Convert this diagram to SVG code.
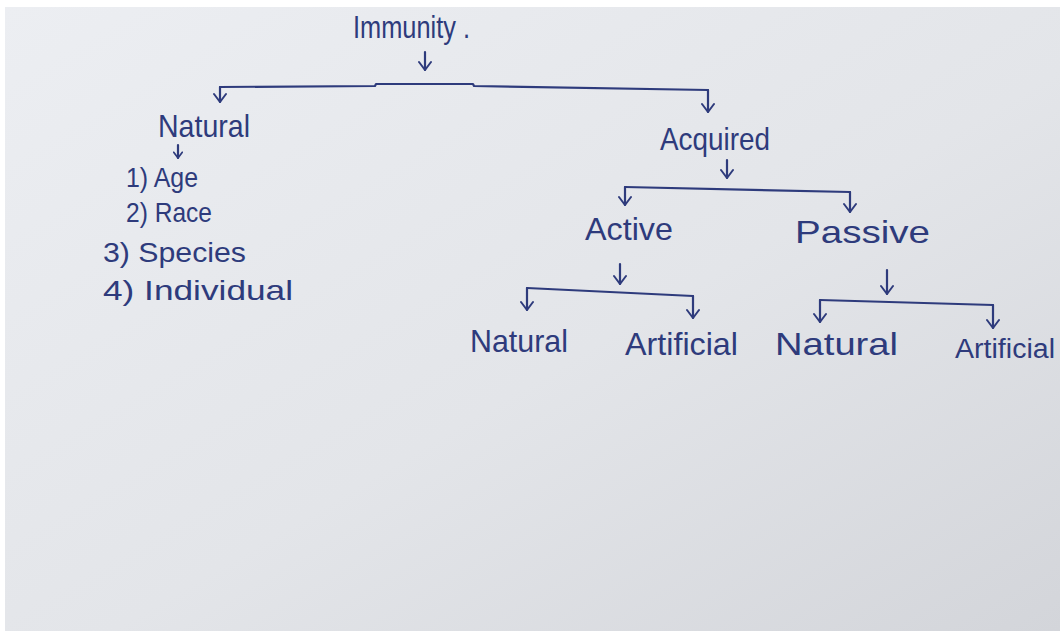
<svg xmlns="http://www.w3.org/2000/svg" width="1060" height="631" viewBox="0 0 1060 631">
<defs>
<linearGradient id="paper" x1="0" y1="0" x2="1" y2="1">
<stop offset="0" stop-color="#eceef2"/>
<stop offset="0.55" stop-color="#e3e5e9"/>
<stop offset="1" stop-color="#d3d5da"/>
</linearGradient>
<marker id="ahd" viewBox="0 0 14 14" refX="12" refY="7" markerWidth="14" markerHeight="14" markerUnits="userSpaceOnUse" orient="auto">
<path d="M4,1 L12,7 L4,13" fill="none" stroke="#2e3b7c" stroke-width="2" stroke-linecap="round" stroke-linejoin="round"/>
</marker>
<marker id="ahs" viewBox="0 0 14 14" refX="12" refY="7" markerWidth="10" markerHeight="10" markerUnits="userSpaceOnUse" orient="auto">
<path d="M4,1 L12,7 L4,13" fill="none" stroke="#2e3b7c" stroke-width="2.4" stroke-linecap="round" stroke-linejoin="round"/>
</marker>
</defs>
<style>
.t{font-family:"Liberation Sans","DejaVu Sans",sans-serif;fill:#2e3b7c;font-size:32px;}
.s{font-size:28px;}
.e{font-size:27px;}
.c{fill:none;stroke:#2e3b7c;stroke-width:2.2;stroke-linecap:round;stroke-linejoin:round;}
</style>
<rect x="0" y="0" width="1060" height="631" fill="#ffffff"/>
<rect x="5" y="7" width="1055" height="624" fill="url(#paper)"/>

<g id="connectors">
<path class="c" d="M220,87 L375,86 L376,84 L473,84 L474,86 L708,90"/>
<path class="c" d="M220,87 L220,102" marker-end="url(#ahd)"/>
<path class="c" d="M708,90 L708,112" marker-end="url(#ahd)"/>
<path class="c" d="M425,52 L425,70" marker-end="url(#ahd)"/>
<path class="c" d="M178,145 L178,158" marker-end="url(#ahs)"/>
<path class="c" d="M727,160 L727,178" marker-end="url(#ahd)"/>
<path class="c" d="M625,187 L850,192"/>
<path class="c" d="M625,187 L625,205" marker-end="url(#ahd)"/>
<path class="c" d="M850,192 L850,212" marker-end="url(#ahd)"/>
<path class="c" d="M620,264 L620,284" marker-end="url(#ahd)"/>
<path class="c" d="M887,270 L887,294" marker-end="url(#ahd)"/>
<path class="c" d="M527,288 L693,296"/>
<path class="c" d="M527,288 L527,310" marker-end="url(#ahd)"/>
<path class="c" d="M693,296 L693,318" marker-end="url(#ahd)"/>
<path class="c" d="M820,300 L993,305"/>
<path class="c" d="M820,300 L820,322" marker-end="url(#ahd)"/>
<path class="c" d="M993,305 L993,328" marker-end="url(#ahd)"/>
</g>

<g id="immunity">
<text class="t" x="353" y="38" textLength="117" lengthAdjust="spacingAndGlyphs">Immunity .</text>
</g>
<g id="natural">
<text class="t" x="158" y="137" textLength="92" lengthAdjust="spacingAndGlyphs">Natural</text>
</g>
<g id="list">
<text class="t s" x="126" y="187" textLength="72" lengthAdjust="spacingAndGlyphs">1) Age</text>
<text class="t s" x="126" y="222" textLength="86" lengthAdjust="spacingAndGlyphs">2) Race</text>
<text class="t s" x="103" y="262" textLength="143" lengthAdjust="spacingAndGlyphs">3)  Species</text>
<text class="t s" x="103" y="300" textLength="190" lengthAdjust="spacingAndGlyphs">4) Individual</text>
</g>
<g id="acquired">
<text class="t" x="660" y="150" textLength="110" lengthAdjust="spacingAndGlyphs">Acquired</text>
</g>
<g id="active">
<text class="t" x="585" y="240" textLength="88" lengthAdjust="spacingAndGlyphs">Active</text>
</g>
<g id="passive">
<text class="t" x="795" y="243" textLength="135" lengthAdjust="spacingAndGlyphs">Passive</text>
</g>
<g id="active-natural">
<text class="t" x="470" y="352" textLength="98" lengthAdjust="spacingAndGlyphs">Natural</text>
</g>
<g id="active-artificial">
<text class="t" x="625" y="355" textLength="113" lengthAdjust="spacingAndGlyphs">Artificial</text>
</g>
<g id="passive-natural">
<text class="t" x="775" y="355" textLength="123" lengthAdjust="spacingAndGlyphs">Natural</text>
</g>
<g id="passive-artificial">
<text class="t e" x="955" y="358" textLength="100" lengthAdjust="spacingAndGlyphs">Artificial</text>
</g>
</svg>
